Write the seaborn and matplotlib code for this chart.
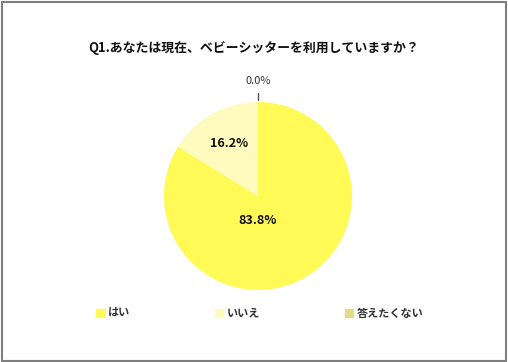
import numpy as np
import matplotlib.pyplot as plt
import seaborn as sns
from matplotlib.patches import Rectangle

categories = ['はい', 'いいえ', '答えたくない']
values = [83.8, 16.2, 0.0]
colors = ['#FFFA55', '#FFFBBE', '#E2DC8A']

sns.set_theme(style='white')
plt.rcParams['font.family'] = ['Noto Sans CJK JP', 'DejaVu Sans']

fig = plt.figure(figsize=(5.08, 3.62), dpi=100)
fig.patches.append(Rectangle((0.004, 0.004), 0.992, 0.99, transform=fig.transFigure,
                             fill=False, edgecolor='#7f7f7f', linewidth=1.5))

# pie centre ~ (258, 196) px, radius ~ 94 px
ax = fig.add_axes([(258 - 94) / 508, 1 - (196 + 94) / 362, 188 / 508, 188 / 362])
wedges, _ = ax.pie(values, colors=colors, startangle=90, counterclock=False,
                   wedgeprops=dict(linewidth=0))
ax.set_xlim(-1, 1)
ax.set_ylim(-1, 1)
ax.set_aspect('equal')

for w, v in zip(wedges, values):
    mid = np.deg2rad((w.theta1 + w.theta2) / 2)
    if v > 50:
        ax.text(0.0, -0.26, f'{v:.1f}%', ha='center', va='center',
                fontsize=9, fontweight='bold', color='#111111')
    elif v > 0:
        ax.text(0.64 * np.cos(mid), 0.64 * np.sin(mid), f'{v:.1f}%', ha='center', va='center',
                fontsize=9, fontweight='bold', color='#111111')
    else:
        ax.plot([0, 0], [1.02, 1.1], color='#555555', lw=1, clip_on=False)
        ax.text(0, 1.17, f'{v:.1f}%', ha='center', va='bottom', fontsize=8, color='#333333')

fig.text(0.5, 1 - 48 / 362, 'Q1.あなたは現在、ベビーシッターを利用していますか？',
         ha='center', va='center', fontsize=9.3, fontweight='bold', color='#111111')

handles = [Rectangle((0, 0), 1, 1, color=c) for c in colors]
leg = fig.legend(handles, categories, loc='center left', bbox_to_anchor=(86 / 508, 1 - 313 / 362),
                 ncol=3, frameon=False, fontsize=8, handlelength=0.7, handleheight=0.7,
                 handletextpad=0.4, columnspacing=7.6)
for t in leg.get_texts():
    t.set_fontweight('bold')
    t.set_color('#333333')

fig.savefig('out.png', dpi=100)
